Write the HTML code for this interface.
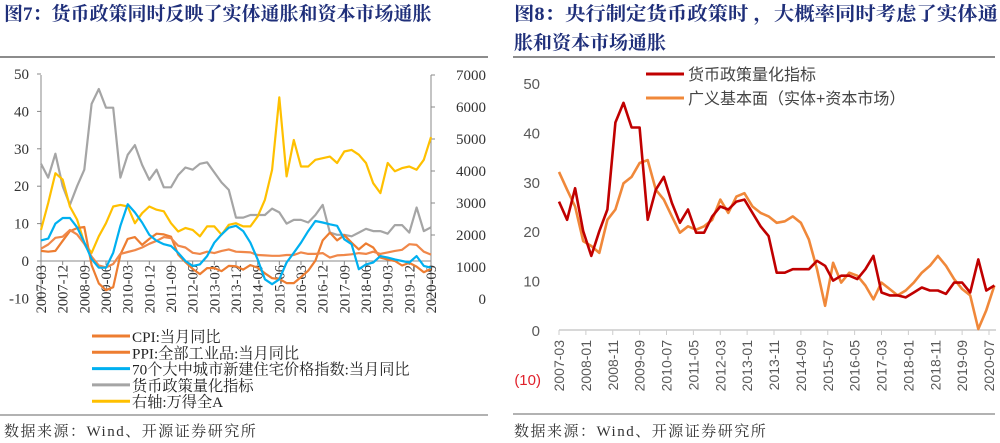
<!DOCTYPE html>
<html><head><meta charset="utf-8">
<style>
body{margin:0;background:#fff;width:1000px;height:443px;overflow:hidden;font-family:"Liberation Serif","Noto Serif CJK SC",serif;}
svg{position:absolute;left:0;top:0}
</style></head><body>
<svg id="svg" width="1000" height="443">
<g font-family="Liberation Serif, Noto Serif CJK SC, serif" font-weight="bold" font-size="19" fill="#1f2f7a">
<text x="4" y="20">图7：货币政策同时反映了实体通胀和资本市场通胀</text></g>
<g font-family="Liberation Serif, Noto Serif CJK SC, serif" font-weight="bold" font-size="19" fill="#1f2f7a">
<text x="514" y="20" textLength="484" lengthAdjust="spacingAndGlyphs">图8：央行制定货币政策时 ，大概率同时考虑了实体通</text>
<text x="514" y="49">胀和资本市场通胀</text></g>
<line x1="0" y1="57" x2="488" y2="57" stroke="#666" stroke-width="1.5"/>
<line x1="513" y1="57" x2="995" y2="57" stroke="#666" stroke-width="1.5"/>
<line x1="0" y1="415" x2="488" y2="415" stroke="#999" stroke-width="1.5"/>
<line x1="513" y1="414" x2="995" y2="414" stroke="#999" stroke-width="1.5"/>
<text x="4" y="436" font-size="15" letter-spacing="1.5" fill="#333">数据来源：Wind、开源证券研究所</text>
<text x="514" y="436" font-size="15" letter-spacing="1.5" fill="#333">数据来源：Wind、开源证券研究所</text>
<g id="left"></g>
<g id="right"></g>
</svg>
<script>
const cpiValues=[3.3,4.4,6.2,6.5,8.3,7.1,4.6,1.2,-1.2,-1.7,-0.8,1.9,2.4,2.9,3.6,4.6,5.4,6.4,6.1,4.1,3.6,2.2,1.9,2.5,2.1,2.7,3.1,2.5,2.4,2.3,1.6,1.5,1.4,1.4,1.6,1.6,2.3,1.9,1.9,2.1,0.9,1.5,1.6,1.8,2.1,1.9,2.5,1.9,2.3,2.7,3.0,4.5,4.3,2.5,1.7];
const ppiValues=[2.7,2.5,2.7,5.4,8,8.8,9.1,-1.1,-6,-7.8,-7,1.7,5.9,6.4,4.3,5.9,7.3,7.1,6.5,1.7,-0.3,-2.1,-3.5,-1.9,-1.9,-2.7,-1.3,-1.4,-2.3,-1.1,-1.8,-3.3,-4.6,-4.8,-5.9,-5.9,-4.3,-2.6,0.1,5.5,7.6,5.5,6.9,4.9,3.1,4.7,3.6,0.9,0.4,0,-1.2,-0.5,-1.5,-3,-2.1];
const houseValues=[5.5,6,10,11.5,11.5,9,5,0.5,-1.8,-1.8,2.2,9.4,15.2,13,10.3,7,5.4,4.5,4,2.2,0,-1.3,-0.9,1.3,4.9,7.1,8.9,9.4,8,4.9,0.4,-4.9,-6.2,-4.9,-0.4,2.2,4.9,8,10.7,10.3,9.8,9.4,5.8,4.5,-2.2,-0.9,-0.4,1.3,0.9,0.4,0,-0.4,1.3,-1.3,-1.8];
const policyValues=[26,22.3,28.7,20,15,20,24.4,42,46,41,41,22.3,28.4,31,25.7,21.7,24.4,19.7,19.7,23,25,24.4,26,26.4,23.7,21,19,11.6,11.6,12.3,12.3,12.3,14,13,10,11,11,10.3,12.3,15,7.6,7,7,6.6,7.6,8.6,8,8,7.3,9.6,9.6,7.6,14.3,8,9];
const windAValues=[2160,3000,3930,3730,2890,2480,1750,1440,1960,2370,2890,2940,2890,2370,2680,2890,2790,2740,2370,2110,2220,2160,1960,2270,2270,2010,2320,2370,2270,2270,2580,3100,4040,6300,3830,4970,4140,4140,4350,4400,4450,4250,4610,4660,4510,4250,3620,3310,4250,3990,4090,4140,4040,4350,5060];
const fundamentalValues=[32,28.4,25,18,17,15.6,22.3,24.4,29.7,31,33.8,34.4,28.4,26.4,23,19.7,21,20.3,21,22.3,26.4,23.7,27,27.7,25,23.7,23,21.7,22,23,21.7,18.3,12.3,4.9,13.6,9.6,11.6,11,9,6.2,9.6,8.3,7,8,9.6,11.6,13,15,13,10.3,8.3,7,0.2,4,9];
const leftYTicks=[50,40,30,20,10,0,-10];
const rightAxisTicks=[7000,6000,5000,4000,3000,2000,1000,0];
const leftXLabels=["2007-03","2007-12","2008-09","2009-06","2010-03","2010-12","2011-09","2012-06","2013-03","2013-12","2014-09","2015-06","2016-03","2016-12","2017-09","2018-06","2019-03","2019-12","2020-09"];
const rightYTicks=[50,40,30,20,10,0];
const rightXLabels=["2007-03","2008-01","2008-11","2009-09","2010-07","2011-05","2012-03","2013-01","2013-11","2014-09","2015-07","2016-05","2017-03","2018-01","2018-11","2019-09","2020-07"];

const NS="http://www.w3.org/2000/svg";
function mk(parent,tag,attrs,text){const e=document.createElementNS(NS,tag);for(const k in attrs)e.setAttribute(k,attrs[k]);if(text!==undefined)e.textContent=text;parent.appendChild(e);return e;}
function monthOf(s){const [y,m]=s.split("-").map(Number);return (y-2007)*12+(m-3);}

const L=document.getElementById("left");
const lx=m=>41+m*390/162;
const ly=v=>261-v*3.74;
const ry=v=>299-v*0.032;
let e;
e=mk(L,"line",{x1:41,y1:75,x2:41,y2:299,stroke:"#888"});


e=mk(L,"line",{x1:431,y1:75,x2:431,y2:299,stroke:"#888"});


e=mk(L,"line",{x1:41,y1:ly(0),x2:431,y2:ly(0),stroke:"#888"});


leftYTicks.forEach(v=>{
  e=mk(L,"text",{x:29,y:ly(v)+5,"text-anchor":"end","font-size":15,fill:"#333"},String(v));
  
  
  mk(L,"line",{x1:37,y1:ly(v),x2:41,y2:ly(v),stroke:"#888"});
});
rightAxisTicks.forEach(v=>{
  e=mk(L,"text",{x:486,y:ry(v)+5,"text-anchor":"end","font-size":15,fill:"#333"},String(v));
  
  
  mk(L,"line",{x1:431,y1:ry(v),x2:435,y2:ry(v),stroke:"#888"});
});
leftXLabels.forEach(s=>{
  const x=lx(monthOf(s));
  mk(L,"line",{x1:x,y1:ly(0),x2:x,y2:ly(0)+4,stroke:"#888"});
  e=mk(L,"text",{x:0,y:0,transform:`translate(${x+5},${ly(0)+4}) rotate(-90)`,"text-anchor":"end","font-size":14.5,fill:"#333"},s);
  
  
});
function path(g,vals,xf,yf,color,name,w){
  const d=vals.map((v,i)=>(i?"L":"M")+xf(i*3).toFixed(1)+","+yf(v).toFixed(1)).join("");
  const p=mk(g,"path",{d:d,fill:"none",stroke:color,"stroke-width":w||2.2,"stroke-linejoin":"round"});
  
  
}
path(L,policyValues,lx,ly,"#A5A5A5","policy-indicator-line");
path(L,windAValues,lx,ry,"#FFC000","wind-a-line");
path(L,ppiValues,lx,ly,"#ED7D31","ppi-line");
path(L,cpiValues,lx,ly,"#F0884A","cpi-line");
path(L,houseValues,lx,ly,"#00B0F0","housing-price-line");
const leg=[["#ED7D31","CPI:当月同比"],["#ED7D31","PPI:全部工业品:当月同比"],["#00B0F0","70个大中城市新建住宅价格指数:当月同比"],["#A5A5A5","货币政策量化指标"],["#FFC000","右轴:万得全A"]];
leg.forEach((it,i)=>{
  const y=336+i*16.3;
  const g=mk(L,"g",{});
  
  
  mk(g,"line",{x1:92,y1:y,x2:130,y2:y,stroke:it[0],"stroke-width":3});
  mk(g,"text",{x:132,y:y+6,"font-size":15.2,fill:"#222"},it[1]);
});

const R=document.getElementById("right");
const rx=m=>559+m*430/160;
const rry=v=>330-v*4.94;
e=mk(R,"line",{x1:559,y1:rry(0),x2:996,y2:rry(0),stroke:"#ccc","stroke-width":1.5});


rightYTicks.forEach(v=>{
  e=mk(R,"text",{x:540,y:rry(v)+6,"text-anchor":"end","font-size":15,fill:"#595959","font-family":"Liberation Sans, sans-serif"},String(v));
  
  
});
e=mk(R,"text",{x:541,y:385,"text-anchor":"end","font-size":15,fill:"#e0202a","font-family":"Liberation Sans, sans-serif"},"(10)");


rightXLabels.forEach(s=>{
  const x=rx(monthOf(s));
  mk(R,"line",{x1:x,y1:rry(0),x2:x,y2:rry(0)+5,stroke:"#ccc"});
  e=mk(R,"text",{x:0,y:0,transform:`translate(${x+5},${rry(0)+10}) rotate(-90)`,"text-anchor":"end","font-size":14,fill:"#595959","font-family":"Liberation Sans, sans-serif"},s);
  
  
});
path(R,fundamentalValues,rx,rry,"#F0883A","fundamental-line",2.6);
path(R,policyValues,rx,rry,"#C00000","policy-line",2.6);
const leg2=[["#C00000","货币政策量化指标"],["#F0883A","广义基本面（实体+资本市场）"]];
leg2.forEach((it,i)=>{
  const y=74+i*24;
  const g=mk(R,"g",{});
  
  
  mk(g,"line",{x1:646,y1:y,x2:684,y2:y,stroke:it[0],"stroke-width":3});
  mk(g,"text",{x:688,y:y+6,"font-size":16,fill:"#444","font-family":"Liberation Sans, Noto Sans CJK SC, sans-serif"},it[1]);
});
</script>
</body></html>
